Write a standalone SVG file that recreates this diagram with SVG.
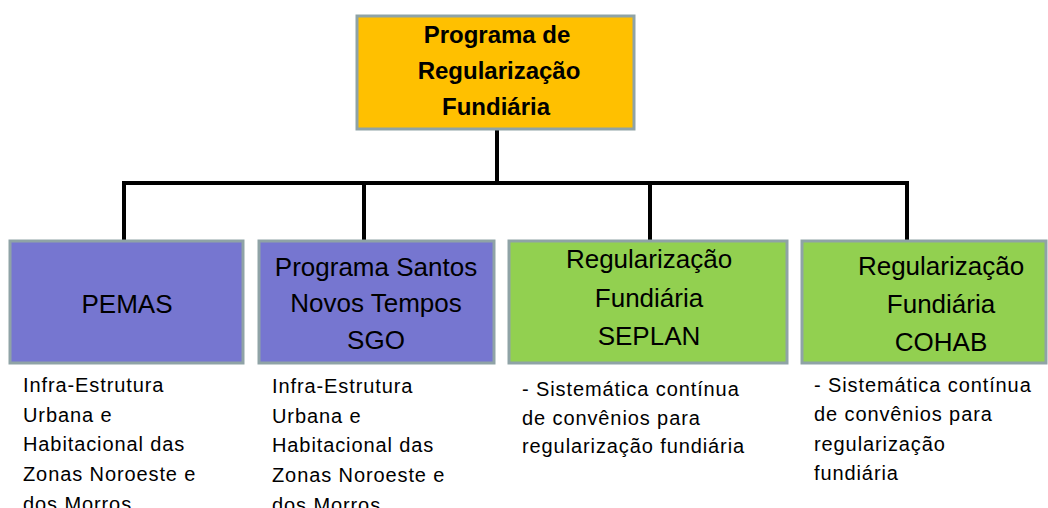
<svg xmlns="http://www.w3.org/2000/svg" width="1048" height="508" viewBox="0 0 1048 508">
<style>
.box{stroke:#8FA3A6;stroke-width:3}
.purple{fill:#7676D0}
.green{fill:#92D050}
.orange{fill:#FFC000}
.t{font-family:"Liberation Sans",Arial,sans-serif;fill:#000}
.title{font-size:24px;font-weight:bold;text-anchor:middle}
.lbl{font-size:26px;text-anchor:middle}
.desc{font-size:20px;letter-spacing:0.9px}
.conn{stroke:#000;stroke-width:4;fill:none}
</style>
<rect width="1048" height="508" fill="#fff"/>
<g id="connectors">
<path class="conn" d="M497 129 V183"/>
<path class="conn" d="M124 183 H907"/>
<path class="conn" d="M124 181 V241"/>
<path class="conn" d="M364 183 V241"/>
<path class="conn" d="M650 183 V241"/>
<path class="conn" d="M907 181 V241"/>
</g>
<g id="root">
<rect class="box orange" x="357" y="16" width="277" height="113"/>
<text class="t title" x="497" y="43">Programa de</text>
<text class="t title" x="499" y="79">Regularização</text>
<text class="t title" x="496" y="115">Fundiária</text>
</g>
<g id="pemas">
<rect class="box purple" x="10" y="241" width="233" height="122"/>
<text class="t lbl" x="127" y="313">PEMAS</text>
</g>
<g id="santos">
<rect class="box purple" x="259" y="241" width="235" height="122"/>
<text class="t lbl" x="376" y="276">Programa Santos</text>
<text class="t lbl" x="376" y="312">Novos Tempos</text>
<text class="t lbl" x="376" y="349">SGO</text>
</g>
<g id="seplan">
<rect class="box green" x="509" y="241" width="278" height="122"/>
<text class="t lbl" x="649" y="268">Regularização</text>
<text class="t lbl" x="649" y="307">Fundiária</text>
<text class="t lbl" x="649" y="345">SEPLAN</text>
</g>
<g id="cohab">
<rect class="box green" x="802" y="241" width="244" height="122"/>
<text class="t lbl" x="941" y="275">Regularização</text>
<text class="t lbl" x="941" y="313">Fundiária</text>
<text class="t lbl" x="941" y="351">COHAB</text>
</g>
<g id="desc-pemas">
<text class="t desc" x="23" y="392">Infra-Estrutura</text>
<text class="t desc" x="23" y="422">Urbana e</text>
<text class="t desc" x="23" y="451">Habitacional das</text>
<text class="t desc" x="23" y="481">Zonas Noroeste e</text>
<text class="t desc" x="23" y="511">dos Morros</text>
</g>
<g id="desc-santos">
<text class="t desc" x="272" y="393">Infra-Estrutura</text>
<text class="t desc" x="272" y="423">Urbana e</text>
<text class="t desc" x="272" y="452">Habitacional das</text>
<text class="t desc" x="272" y="482">Zonas Noroeste e</text>
<text class="t desc" x="272" y="512">dos Morros</text>
</g>
<g id="desc-seplan">
<text class="t desc" x="522" y="396">- Sistemática contínua</text>
<text class="t desc" x="522" y="425">de convênios para</text>
<text class="t desc" x="522" y="453">regularização fundiária</text>
</g>
<g id="desc-cohab">
<text class="t desc" x="814" y="392">- Sistemática contínua</text>
<text class="t desc" x="814" y="421">de convênios para</text>
<text class="t desc" x="814" y="451">regularização</text>
<text class="t desc" x="814" y="480">fundiária</text>
</g>
</svg>
